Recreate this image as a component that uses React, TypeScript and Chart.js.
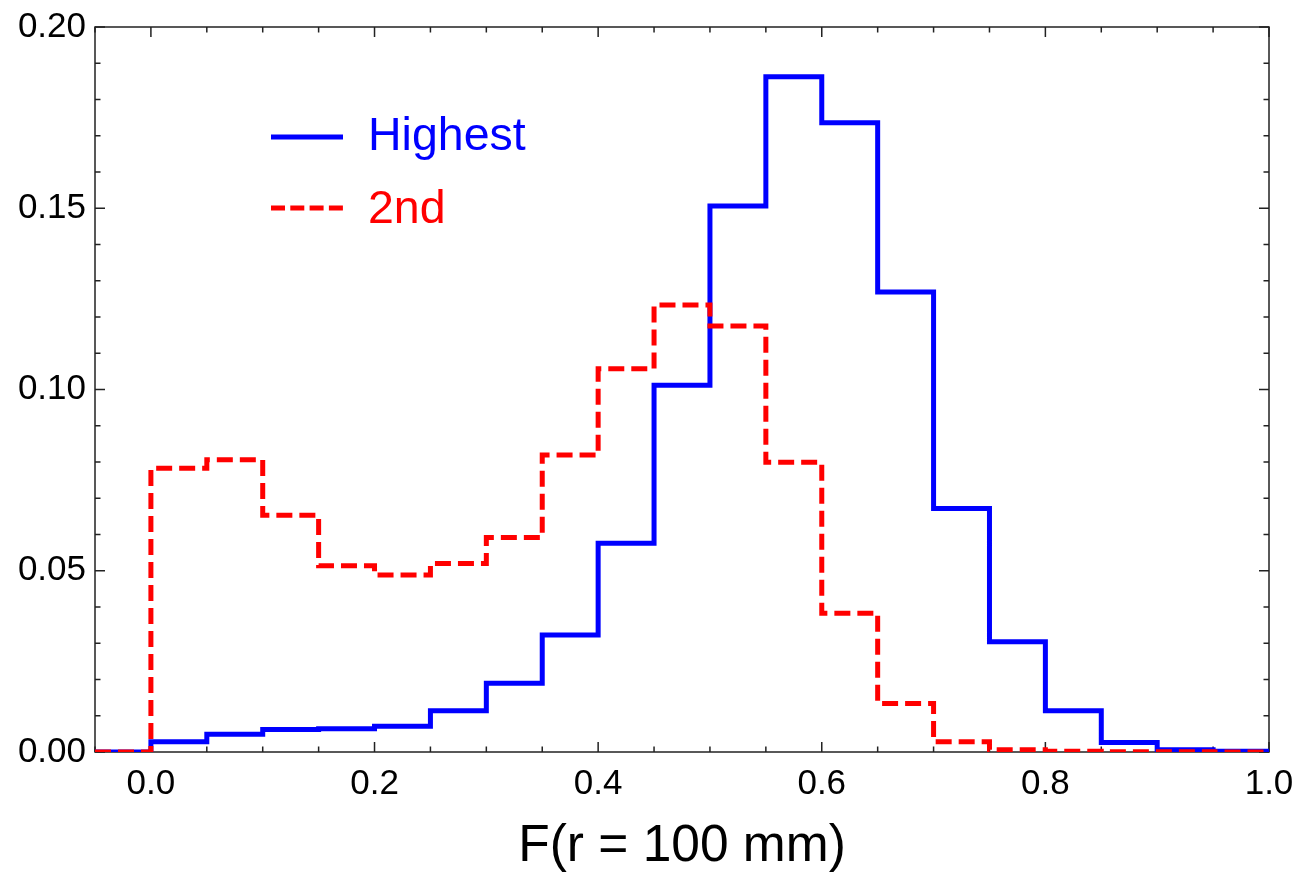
import React, { useEffect, useRef } from "react";
import { Chart, registerables } from "chart.js";

Chart.register(...registerables);

// Histogram bin starts (bin width 0.05)
const binStarts = [-0.05, 0.0, 0.05, 0.1, 0.15, 0.2, 0.25, 0.3, 0.35, 0.4, 0.45, 0.5, 0.55, 0.6, 0.65, 0.7, 0.75, 0.8, 0.85, 0.9, 0.95];
const binWidth = 0.05;

const highest = [0, 0.0028, 0.0049, 0.0062, 0.0064, 0.0071, 0.0114, 0.019, 0.0323, 0.0576, 0.1012, 0.1506, 0.1863, 0.1736, 0.1269, 0.0672, 0.0304, 0.0114, 0.0026, 0.0006, 0.0002];
const second = [0, 0.0783, 0.0806, 0.0653, 0.0514, 0.0488, 0.052, 0.0592, 0.0819, 0.1057, 0.1233, 0.1175, 0.0799, 0.0383, 0.0134, 0.0028, 0.0006, 0.0002, 0.0001, 0.0001, 0.0];

const seriesLabels = ["Highest", "2nd"];
const seriesColors = ["#0000ff", "#ff0000"];

const xTickValues = [0.0, 0.2, 0.4, 0.6, 0.8, 1.0];
const yTickValues = [0.0, 0.05, 0.1, 0.15, 0.2];
const xMinorStep = 0.05;
const yMinorStep = 0.01;

const FONT = "'Liberation Sans', Arial, Helvetica, sans-serif";

function stepPoints(values: number[]) {
  const pts = binStarts.map((x, i) => ({ x, y: values[i] }));
  pts.push({ x: binStarts[binStarts.length - 1] + binWidth, y: values[values.length - 1] });
  return pts;
}

const framePlugin = {
  id: "frameTicks",
  beforeDatasetsDraw(chart: any) {
    const { ctx, chartArea } = chart;
    const xs = chart.scales.x;
    const ys = chart.scales.y;
    const { left, right, top, bottom } = chartArea;
    ctx.save();
    ctx.strokeStyle = "#222";
    ctx.lineWidth = 1.5;
    ctx.strokeRect(left, top, right - left, bottom - top);
    const major = 10;
    const minor = 5.5;
    ctx.beginPath();
    for (let v = xs.min; v <= xs.max + 1e-9; v += xMinorStep) {
      const val = Math.round(v * 1000) / 1000;
      const isMajor = xTickValues.some((t) => Math.abs(t - val) < 1e-6);
      const len = isMajor ? major : minor;
      const px = xs.getPixelForValue(val);
      ctx.moveTo(px, bottom);
      ctx.lineTo(px, bottom - len);
      ctx.moveTo(px, top);
      ctx.lineTo(px, top + len);
    }
    for (let v = ys.min; v <= ys.max + 1e-9; v += yMinorStep) {
      const val = Math.round(v * 1000) / 1000;
      const isMajor = yTickValues.some((t) => Math.abs(t - val) < 1e-6);
      const len = isMajor ? major : minor;
      const py = ys.getPixelForValue(val);
      ctx.moveTo(left, py);
      ctx.lineTo(left + len, py);
      ctx.moveTo(right, py);
      ctx.lineTo(right - len, py);
    }
    ctx.stroke();
    ctx.restore();
  },
};

const legendPlugin = {
  id: "insideLegend",
  afterDatasetsDraw(chart: any) {
    const { ctx } = chart;
    ctx.save();
    const rows = [
      { y: 137, dash: [] as number[], textY: 150 },
      { y: 208, dash: [14, 5.3], textY: 223 },
    ];
    rows.forEach((r, i) => {
      ctx.strokeStyle = seriesColors[i];
      ctx.lineWidth = 5;
      ctx.setLineDash(r.dash);
      ctx.beginPath();
      ctx.moveTo(271, r.y);
      ctx.lineTo(343, r.y);
      ctx.stroke();
      ctx.setLineDash([]);
      ctx.fillStyle = seriesColors[i];
      ctx.font = `46.5px ${FONT}`;
      ctx.textBaseline = "alphabetic";
      ctx.textAlign = "left";
      ctx.fillText(seriesLabels[i], 368, r.textY);
    });
    ctx.restore();
  },
};

export default function App() {
  const canvasRef = useRef<HTMLCanvasElement | null>(null);

  useEffect(() => {
    const canvas = canvasRef.current;
    if (!canvas) return;
    const chart = new Chart(canvas, {
      type: "line",
      data: {
        datasets: [
          {
            label: seriesLabels[0],
            data: stepPoints(highest),
            borderColor: seriesColors[0],
            backgroundColor: seriesColors[0],
            borderWidth: 5,
            stepped: "before",
            pointRadius: 0,
            fill: false,
            order: 1,
          },
          {
            label: seriesLabels[1],
            data: stepPoints(second),
            borderColor: seriesColors[1],
            backgroundColor: seriesColors[1],
            borderWidth: 5,
            borderDash: [16, 7],
            stepped: "before",
            pointRadius: 0,
            fill: false,
            order: 0,
          },
        ],
      },
      options: {
        responsive: false,
        animation: false,
        devicePixelRatio: 1,
        layout: { padding: { top: 27, right: 30, left: 0, bottom: 0 } },
        plugins: {
          legend: { display: false },
          tooltip: { enabled: false },
        },
        scales: {
          x: {
            type: "linear",
            min: -0.05,
            max: 1.0,
            grid: { display: false, drawTicks: false },
            border: { display: false },
            afterBuildTicks: (s: any) => {
              s.ticks = xTickValues.map((v) => ({ value: v }));
            },
            afterFit: (s: any) => {
              s.height = 126;
              s.paddingLeft = 0;
              s.paddingRight = 0;
            },
            ticks: {
              color: "#000",
              font: { family: FONT, size: 35 },
              padding: 11,
              maxRotation: 0,
              autoSkip: false,
              callback: (v: any) => Number(v).toFixed(1),
            },
            title: {
              display: true,
              text: "F(r = 100 mm)",
              color: "#000",
              font: { family: FONT, size: 51.5 },
              padding: { top: 0, bottom: 0 },
            },
          },
          y: {
            type: "linear",
            min: 0,
            max: 0.2,
            grid: { display: false, drawTicks: false },
            border: { display: false },
            afterBuildTicks: (s: any) => {
              s.ticks = yTickValues.map((v) => ({ value: v }));
            },
            afterFit: (s: any) => {
              s.width = 95;
              s.paddingTop = 0;
              s.paddingBottom = 0;
            },
            ticks: {
              color: "#000",
              font: { family: FONT, size: 35 },
              padding: 9,
              callback: (v: any) => Number(v).toFixed(2),
            },
          },
        },
      },
      plugins: [framePlugin, legendPlugin],
    } as any);
    return () => chart.destroy();
  }, []);

  return (
    <div style={{ position: "fixed", left: 0, top: 0, width: 1299, height: 878, background: "#fff" }}>
      <canvas ref={canvasRef} width={1299} height={878} style={{ display: "block" }} />
    </div>
  );
}
